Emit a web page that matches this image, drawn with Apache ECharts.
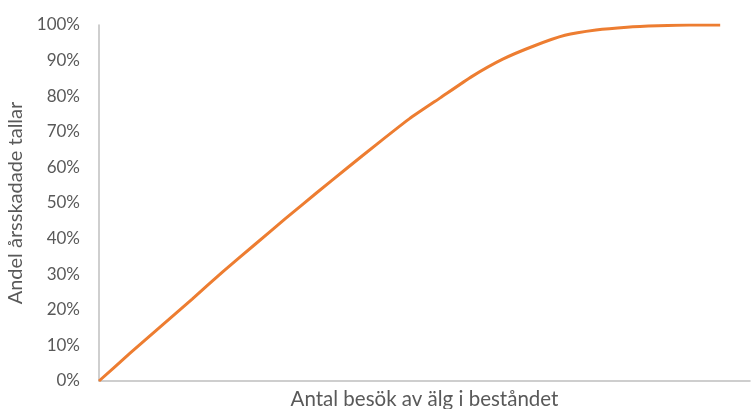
<!DOCTYPE html>
<html>
<head>
<meta charset="utf-8">
<script src="https://cdn.jsdelivr.net/npm/echarts@6/dist/echarts.min.js"></script>
<style>html,body{margin:0;padding:0;background:#fff;overflow:hidden}#c{width:753px;height:409px}</style>
</head>
<body>
<div id="c"></div>
<script>
const visits = [0,5,10,15,20,25,30,35,40,45,50,55,60,65,70,75,80,85,90,95,100];
const damagedShare = [0,7.8,15.4,23.0,30.8,38.2,45.6,52.8,59.9,66.9,73.7,79.6,85.5,90.4,94.1,97.1,98.6,99.4,99.8,100,100];
const yTicks = [0,10,20,30,40,50,60,70,80,90,100];
const xTitle = 'Antal besök av älg i beståndet';
const yTitle = 'Andel årsskadade tallar';

const chart = echarts.init(document.getElementById('c'), null, {renderer:'canvas'});
chart.setOption({
  animation:false,
  grid:{left:99, right:3, top:25, bottom:28, outerBoundsMode:'none', containLabel:false},
  xAxis:{
    type:'value', min:0, max:104.8,
    name:xTitle, nameLocation:'middle', nameGap:8,
    nameTextStyle:{fontFamily:'Lato', fontSize:20.5, color:'#595959', verticalAlign:'top'},
    axisLine:{show:true, lineStyle:{color:'#bfbfbf', width:1.5}},
    axisTick:{show:false}, axisLabel:{show:false}, splitLine:{show:false}
  },
  yAxis:{
    type:'value', min:yTicks[0], max:yTicks[yTicks.length-1], interval:10,
    name:yTitle, nameLocation:'middle', nameGap:68, nameRotate:90,
    nameTextStyle:{fontFamily:'Lato', fontSize:20, color:'#595959'},
    axisLine:{show:true, lineStyle:{color:'#bfbfbf', width:1.5}},
    axisTick:{show:false}, splitLine:{show:false},
    axisLabel:{formatter:'{value}%', fontFamily:'Lato', fontSize:17, color:'#595959', margin:19}
  },
  series:[{
    type:'line',
    data:visits.map((v,i)=>[v,damagedShare[i]]),
    showSymbol:false, smooth:0.15,
    lineStyle:{color:'#ED7D31', width:3}
  }]
});
</script>
</body>
</html>
